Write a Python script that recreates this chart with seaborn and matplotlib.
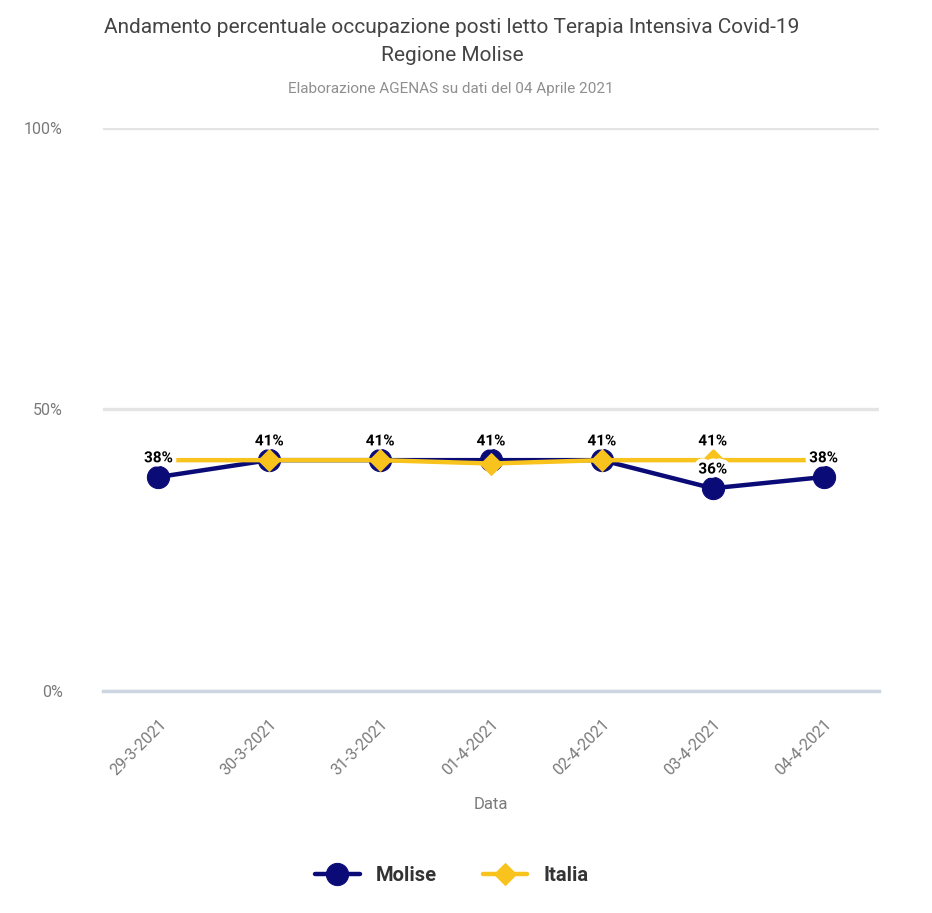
import matplotlib
matplotlib.use("Agg")
import matplotlib.pyplot as plt
import matplotlib.patheffects as pe
import seaborn as sns
import pandas as pd

# dati
date = ["29-3-2021", "30-3-2021", "31-3-2021", "01-4-2021",
        "02-4-2021", "03-4-2021", "04-4-2021"]
molise = [38, 41, 41, 41, 41, 36, 38]
italia = [41, 41, 41, 40.4, 41, 41, 41]
# etichette visibili nel grafico originale
etichette_molise = [True, True, True, True, True, True, True]
etichette_italia = [False, False, False, False, False, True, False]

col_molise = "#0b0b78"
col_italia = "#f7c31c"

sns.set_theme(style="white")
plt.rcParams["font.family"] = ["Roboto", "DejaVu Sans"]

df = pd.DataFrame({"pos": range(len(date)), "Molise": molise, "Italia": italia})

fig = plt.figure(figsize=(9.32, 9.13), dpi=100)
ax = fig.add_axes([0.1105, 0.2432, 0.8326, 0.6166])

sns.lineplot(data=df, x="pos", y="Molise", ax=ax, color=col_molise, lw=3.2,
             marker="o", markersize=16, markeredgecolor=col_molise,
             label="Molise", zorder=3)
sns.lineplot(data=df, x="pos", y="Italia", ax=ax, color=col_italia, lw=3.2,
             marker="D", markersize=11, markeredgecolor=col_italia,
             markevery=list(range(1, len(date) - 1)),
             label="Italia", zorder=4)

halo = [pe.withStroke(linewidth=6, foreground="white")]
for serie, flags in [(molise, etichette_molise), (italia, etichette_italia)]:
    for i, v in enumerate(serie):
        if flags[i]:
            ax.annotate(f"{v:.0f}%", (i, v), xytext=(0, 13.5), textcoords="offset points",
                        ha="center", va="center", fontsize=11, fontweight="bold",
                        color="black", path_effects=halo, zorder=6)

ax.set_xlim(-0.5, len(date) - 0.5)
ax.set_ylim(0, 100)
ax.set_yticks([0, 50, 100])
ax.set_yticklabels(["0%", "50%", "100%"], fontsize=11.5, color="#7a7a7a")
ax.set_xticks(range(len(date)))
ax.set_xticklabels(date, rotation=45, ha="right", rotation_mode="anchor",
                   fontsize=11.5, color="#7a7a7a")
ax.tick_params(axis="y", pad=29, length=0)
ax.tick_params(axis="x", pad=18, length=0)
ax.yaxis.grid(True, color="#e4e4e4", lw=2.4)
ax.set_axisbelow(True)
for s in ["top", "right", "left"]:
    ax.spines[s].set_visible(False)
ax.spines["bottom"].set_color("#ccd6e0")
ax.spines["bottom"].set_linewidth(2.5)
ax.set_xlabel("Data", fontsize=12, color="#7a7a7a", labelpad=14)
ax.set_ylabel("")

ax.get_legend().remove()
handles, labels = ax.get_legend_handles_labels()
leg = fig.legend(handles, labels, loc="center", bbox_to_anchor=(0.485, 0.041),
                 ncol=2, frameon=False, handlelength=2.2, columnspacing=2.3,
                 prop={"size": 14.5, "weight": "bold"})
for t in leg.get_texts():
    t.set_color("#333333")

fig.text(0.485, 0.970, "Andamento percentuale occupazione posti letto Terapia Intensiva Covid-19",
         ha="center", va="center", fontsize=15, color="#444444")
fig.text(0.485, 0.939, "Regione Molise", ha="center", va="center",
         fontsize=15, color="#444444")
fig.text(0.484, 0.903, "Elaborazione AGENAS su dati del 04 Aprile 2021",
         ha="center", va="center", fontsize=11, color="#8f8f8f")

fig.savefig("out.png", dpi=100)
